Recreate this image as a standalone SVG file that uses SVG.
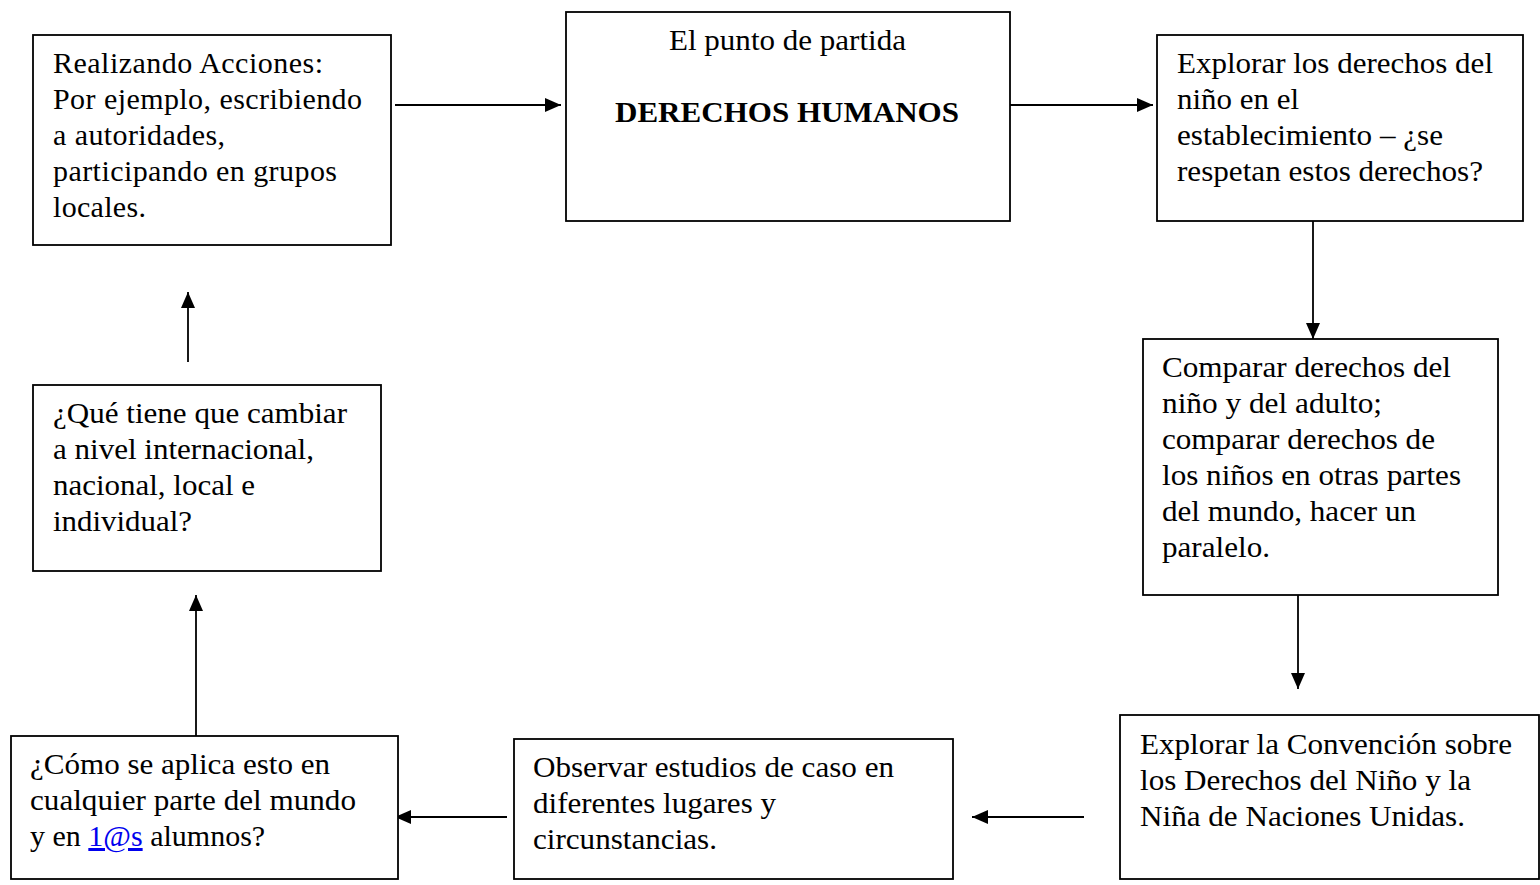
<svg xmlns="http://www.w3.org/2000/svg" width="1540" height="885" viewBox="0 0 1540 885">
<style>
.box{fill:#fff;stroke:#000;stroke-width:1.8}
.t{font-family:"Liberation Serif","Times New Roman",serif;font-size:30px;fill:#000}
.b{font-weight:bold}
.c{stroke:#000;stroke-width:1.8;fill:none}
.lnk{fill:#0000ee;text-decoration:underline}
</style>
<defs>
<marker id="ah" markerWidth="16" markerHeight="14" refX="16" refY="7" orient="auto" markerUnits="userSpaceOnUse">
<path d="M0,0 L16,7 L0,14 Z" fill="#000"/>
</marker>
</defs>
<rect width="1540" height="885" fill="#fff"/>
<g id="connectors">
<line class="c" x1="395" y1="105" x2="561" y2="105" marker-end="url(#ah)"/>
<line class="c" x1="1010" y1="105" x2="1153" y2="105" marker-end="url(#ah)"/>
<line class="c" x1="1313" y1="221" x2="1313" y2="339" marker-end="url(#ah)"/>
<line class="c" x1="1298" y1="595" x2="1298" y2="689" marker-end="url(#ah)"/>
<line class="c" x1="1084" y1="817" x2="972" y2="817" marker-end="url(#ah)"/>
<line class="c" x1="507" y1="817" x2="395" y2="817" marker-end="url(#ah)"/>
<line class="c" x1="196" y1="736" x2="196" y2="595" marker-end="url(#ah)"/>
<line class="c" x1="188" y1="362" x2="188" y2="292" marker-end="url(#ah)"/>
</g>
<g id="n1">
<rect class="box" x="33" y="35" width="358" height="210"/>
<text class="t" lengthAdjust="spacingAndGlyphs"><tspan x="53" y="73" textLength="270">Realizando Acciones:</tspan><tspan x="53" y="109" textLength="309">Por ejemplo, escribiendo</tspan><tspan x="53" y="145" textLength="172">a autoridades,</tspan><tspan x="53" y="181" textLength="284">participando en grupos</tspan><tspan x="53" y="217" textLength="93">locales.</tspan></text>
</g>
<g id="n2">
<rect class="box" x="566" y="12" width="444" height="209"/>
<text class="t"><tspan x="669" y="50" textLength="237" lengthAdjust="spacingAndGlyphs">El punto de partida</tspan><tspan class="b" x="615" y="122" textLength="344" lengthAdjust="spacingAndGlyphs">DERECHOS HUMANOS</tspan></text>
</g>
<g id="n3">
<rect class="box" x="1157" y="35" width="366" height="186"/>
<text class="t"><tspan x="1177" y="73" textLength="316" lengthAdjust="spacingAndGlyphs">Explorar los derechos del</tspan><tspan x="1177" y="109" textLength="122" lengthAdjust="spacingAndGlyphs">niño en el</tspan><tspan x="1177" y="145" textLength="266" lengthAdjust="spacingAndGlyphs">establecimiento – ¿se</tspan><tspan x="1177" y="181" textLength="306" lengthAdjust="spacingAndGlyphs">respetan estos derechos?</tspan></text>
</g>
<g id="n4">
<rect class="box" x="1143" y="339" width="355" height="256"/>
<text class="t"><tspan x="1162" y="377" textLength="289" lengthAdjust="spacingAndGlyphs">Comparar derechos del</tspan><tspan x="1162" y="413" textLength="220" lengthAdjust="spacingAndGlyphs">niño y del adulto;</tspan><tspan x="1162" y="449" textLength="273" lengthAdjust="spacingAndGlyphs">comparar derechos de</tspan><tspan x="1162" y="485" textLength="299" lengthAdjust="spacingAndGlyphs">los niños en otras partes</tspan><tspan x="1162" y="521" textLength="254" lengthAdjust="spacingAndGlyphs">del mundo, hacer un</tspan><tspan x="1162" y="557" textLength="108" lengthAdjust="spacingAndGlyphs">paralelo.</tspan></text>
</g>
<g id="n5">
<rect class="box" x="1120" y="715" width="419" height="164"/>
<text class="t"><tspan x="1140" y="754" textLength="372" lengthAdjust="spacingAndGlyphs">Explorar la Convención sobre</tspan><tspan x="1140" y="790" textLength="331" lengthAdjust="spacingAndGlyphs">los Derechos del Niño y la</tspan><tspan x="1140" y="826" textLength="325" lengthAdjust="spacingAndGlyphs">Niña de Naciones Unidas.</tspan></text>
</g>
<g id="n6">
<rect class="box" x="514" y="739" width="439" height="140"/>
<text class="t"><tspan x="533" y="777" textLength="361" lengthAdjust="spacingAndGlyphs">Observar estudios de caso en</tspan><tspan x="533" y="813" textLength="243" lengthAdjust="spacingAndGlyphs">diferentes lugares y</tspan><tspan x="533" y="849" textLength="184" lengthAdjust="spacingAndGlyphs">circunstancias.</tspan></text>
</g>
<g id="n7">
<rect class="box" x="11" y="736" width="387" height="143"/>
<text class="t"><tspan x="30" y="774" textLength="300" lengthAdjust="spacingAndGlyphs">¿Cómo se aplica esto en</tspan><tspan x="30" y="810" textLength="326" lengthAdjust="spacingAndGlyphs">cualquier parte del mundo</tspan><tspan x="30" y="846">y en <tspan class="lnk">1@s</tspan> alumnos?</tspan></text>
</g>
<g id="n8">
<rect class="box" x="33" y="385" width="348" height="186"/>
<text class="t"><tspan x="53" y="423" textLength="294" lengthAdjust="spacingAndGlyphs">¿Qué tiene que cambiar</tspan><tspan x="53" y="459" textLength="261" lengthAdjust="spacingAndGlyphs">a nivel internacional,</tspan><tspan x="53" y="495" textLength="202" lengthAdjust="spacingAndGlyphs">nacional, local e</tspan><tspan x="53" y="531" textLength="139" lengthAdjust="spacingAndGlyphs">individual?</tspan></text>
</g>
</svg>
